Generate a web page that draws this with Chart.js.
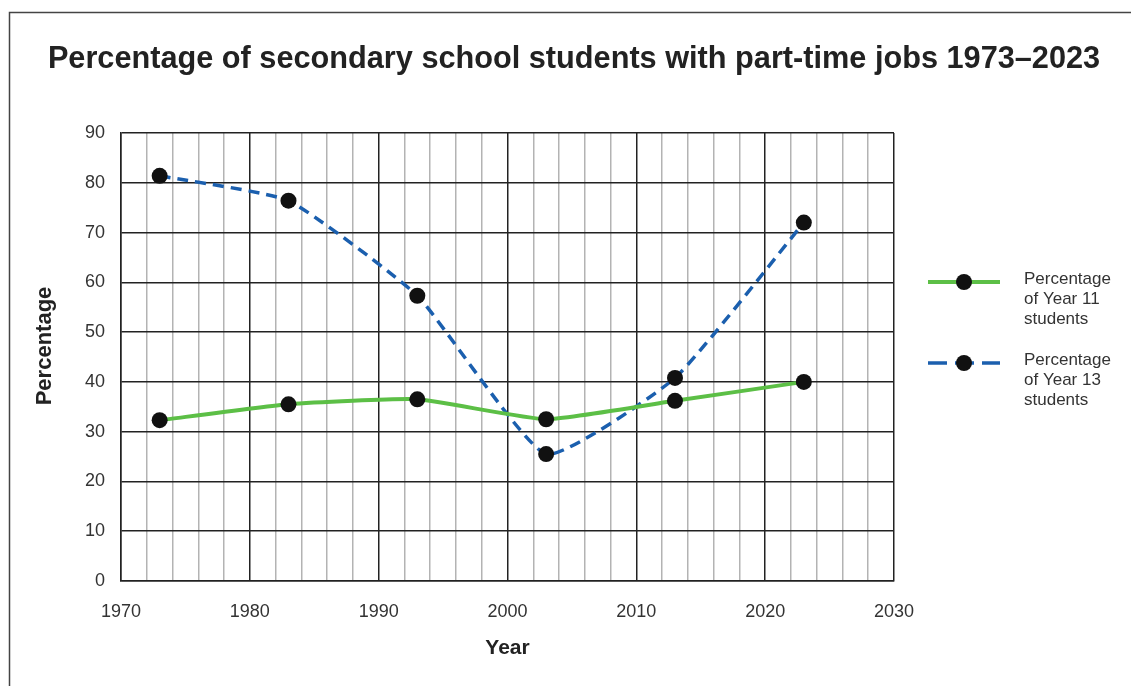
<!DOCTYPE html>
<html>
<head>
<meta charset="utf-8">
<script src="https://cdn.jsdelivr.net/npm/chart.js@4.4.1/dist/chart.umd.min.js"></script>
<style>
  html, body { margin: 0; padding: 0; background: #fff; overflow: hidden; }
  #wrap { width: 1131px; height: 686px; position: relative; }
</style>
</head>
<body>
<div id="wrap"><canvas id="c" width="1131" height="686"></canvas></div>
<script>
// Survey years and the share of students holding a part-time job
const years = [1973, 1983, 1993, 2003, 2013, 2023];
const year11 = [32.3, 35.5, 36.5, 32.5, 36.2, 40.0];
const year13 = [81.4, 76.4, 57.3, 25.5, 40.8, 72.0];

const seriesLabels = [
  ['Percentage', 'of Year 11', 'students'],
  ['Percentage', 'of Year 13', 'students']
];
const chartTitle = 'Percentage of secondary school students with part-time jobs 1973\u20132023';
const xTitle = 'Year';
const yTitle = 'Percentage';

const FONT = "'Liberation Sans', Arial, sans-serif";

const toPoints = (vals) => vals.map((v, i) => ({ x: years[i], y: v }));

// Frame, heading, vertical axis caption and the side key
const decorPlugin = {
  id: 'decor',
  beforeDraw(chart) {
    const ctx = chart.ctx;
    ctx.save();
    ctx.fillStyle = '#fff';
    ctx.fillRect(0, 0, chart.width, chart.height);
    ctx.strokeStyle = '#444';
    ctx.lineWidth = 1.5;
    ctx.strokeRect(9.5, 12.5, chart.width + 20, chart.height + 20);
    ctx.restore();
  },
  afterDraw(chart) {
    const ctx = chart.ctx;
    ctx.save();
    ctx.fillStyle = '#222';
    ctx.font = 'bold 30.7px ' + FONT;
    ctx.textAlign = 'center';
    ctx.textBaseline = 'alphabetic';
    ctx.fillText(chartTitle, 574, 68);

    // y-axis caption, rotated, centred a little above the plot middle
    ctx.save();
    ctx.translate(45, 346);
    ctx.rotate(-Math.PI / 2);
    ctx.font = 'bold 22px ' + FONT;
    ctx.textBaseline = 'middle';
    ctx.fillText(yTitle, 0, 0);
    ctx.restore();

    const rows = [282, 363];
    chart.data.datasets.forEach((ds, i) => {
      const y = rows[i];
      ctx.strokeStyle = ds.borderColor;
      ctx.lineWidth = ds.borderWidth;
      ctx.setLineDash(ds.borderDash && ds.borderDash.length ? [19, 8] : []);
      ctx.beginPath();
      ctx.moveTo(928, y);
      ctx.lineTo(1000, y);
      ctx.stroke();
      ctx.setLineDash([]);
      ctx.fillStyle = '#111';
      ctx.beginPath();
      ctx.arc(964, y, 8, 0, Math.PI * 2);
      ctx.fill();

      ctx.fillStyle = '#333';
      ctx.font = '17px ' + FONT;
      ctx.textAlign = 'left';
      ctx.textBaseline = 'middle';
      seriesLabels[i].forEach((line, k) => {
        ctx.fillText(line, 1024, y - 3 + k * 20);
      });
    });
    ctx.restore();
  }
};

new Chart(document.getElementById('c'), {
  type: 'line',
  data: {
    datasets: [
      {
        label: seriesLabels[0].join(' '),
        data: toPoints(year11),
        borderColor: '#5cbf46',
        borderWidth: 4,
        borderDash: [],
        tension: 0.15,
        pointRadius: 8,
        pointHoverRadius: 8,
        pointBackgroundColor: '#111',
        pointBorderColor: '#111',
        pointBorderWidth: 0
      },
      {
        label: seriesLabels[1].join(' '),
        data: toPoints(year13),
        borderColor: '#1b5fae',
        borderWidth: 3.5,
        borderDash: [11, 7],
        tension: 0.15,
        pointRadius: 8,
        pointHoverRadius: 8,
        pointBackgroundColor: '#111',
        pointBorderColor: '#111',
        pointBorderWidth: 0
      }
    ]
  },
  options: {
    responsive: false,
    animation: false,
    devicePixelRatio: 1,
    layout: { padding: { left: 0, top: 133, right: 237, bottom: 0 } },
    plugins: {
      legend: { display: false },
      title: { display: false },
      tooltip: { enabled: false }
    },
    scales: {
      x: {
        type: 'linear',
        min: 1970,
        max: 2030,
        afterFit(scale) { scale.height = 105; },
        ticks: {
          stepSize: 2,
          autoSkip: false,
          maxRotation: 0,
          padding: 20,
          color: '#333',
          font: { family: FONT, size: 18 },
          callback: (v) => (v % 10 === 0 ? String(v) : '')
        },
        grid: {
          drawTicks: false,
          color: (c) => (c.tick && c.tick.value % 10 === 0 ? '#222' : '#b3b3b3'),
          lineWidth: 1.5
        },
        border: { color: '#222', width: 1.5 },
        title: {
          display: true,
          text: xTitle,
          color: '#222',
          font: { family: FONT, size: 21, weight: 'bold' },
          padding: { top: 0, bottom: 25 }
        }
      },
      y: {
        min: 0,
        max: 90,
        afterFit(scale) { scale.width = 121; },
        ticks: {
          stepSize: 10,
          padding: 16,
          color: '#333',
          font: { family: FONT, size: 18 }
        },
        grid: {
          drawTicks: false,
          color: '#222',
          lineWidth: 1.5
        },
        border: { color: '#222', width: 1.5 },
        title: { display: false, text: yTitle }
      }
    }
  },
  plugins: [decorPlugin]
});
</script>
</body>
</html>
